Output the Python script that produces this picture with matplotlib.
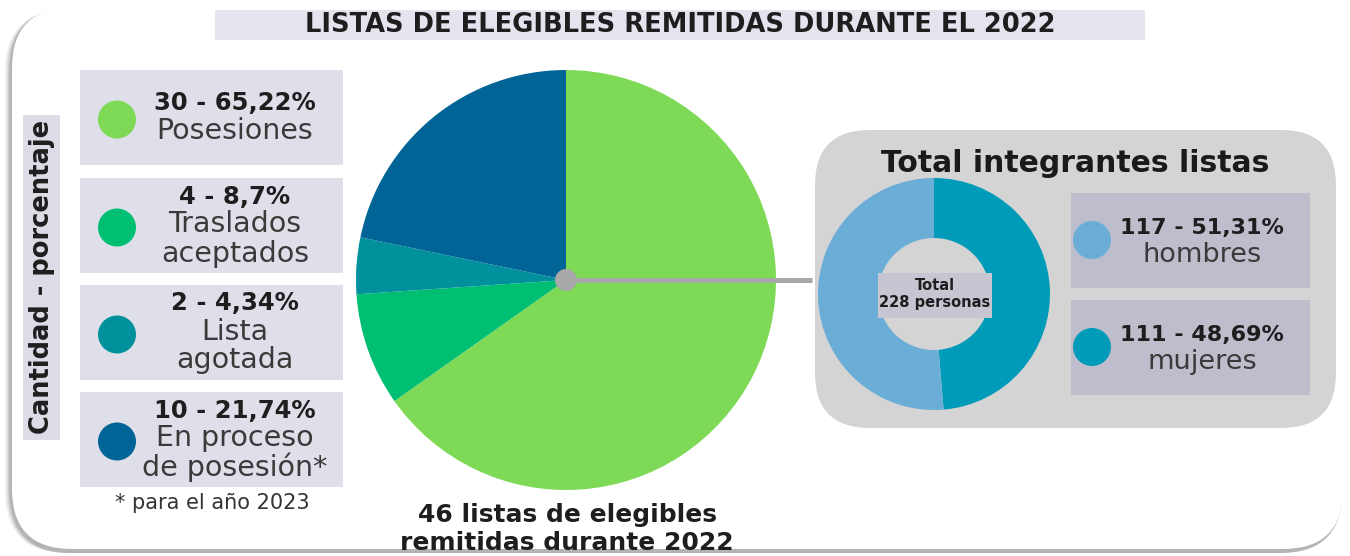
import matplotlib.pyplot as plt
from matplotlib.patches import FancyBboxPatch, Circle

# canvas in pixels
W, H = 1350, 556

# main pie: lists sent in 2022
categories = ['Posesiones', 'Traslados\naceptados', 'Lista\nagotada', 'En proceso\nde posesión*']
counts = [30, 4, 2, 10]
count_labels = ['30 - 65,22%', '4 - 8,7%', '2 - 4,34%', '10 - 21,74%']
colors = ['#7ed957', '#00bf72', '#00919c', '#006596']

# donut: members of the lists
gender = ['hombres', 'mujeres']
gender_counts = [117, 111]
gender_labels = ['117 - 51,31%', '111 - 48,69%']
gender_colors = ['#6aaed8', '#009bb8']

FONT = 'DejaVu Sans'


def Y(p):
    # pixel row (from top) -> data y (from bottom)
    return H - p


def rbox(ax, x0, y0, x1, y1, color, r=0, z=1, **kw):
    # rounded box given in pixel coords (top-left / bottom-right)
    ax.add_patch(FancyBboxPatch((x0, Y(y1)), x1 - x0, y1 - y0,
                                boxstyle=f'round,pad=0,rounding_size={r}' if r else 'square,pad=0',
                                fc=color, ec='none', zorder=z, **kw))


fig = plt.figure(figsize=(W / 100, H / 100), dpi=100)
ax = fig.add_axes([0, 0, 1, 1])

# card with soft shadow
for i, a in enumerate([0.10, 0.14, 0.20, 0.28]):
    d = 7 - i * 1.5
    rbox(ax, 12 - d, 8 + d * 0.3, 1343 - d * 0.2, 553, '#7a7a7a', r=62, z=0, alpha=a)
rbox(ax, 12, 8, 1343, 549, 'white', r=60, z=0.5)

# title
rbox(ax, 215, 10, 1145, 40, '#e4e4ee', z=1)
ax.text(680, Y(25), 'LISTAS DE ELEGIBLES REMITIDAS DURANTE EL 2022', ha='center', va='center',
        fontsize=18.5, fontweight='bold', family=FONT, color='#1e1e1e', zorder=3)

# vertical label
rbox(ax, 23, 115, 60, 440, '#dcdce6', z=1)
ax.text(42, Y(277), 'Cantidad - porcentaje', rotation=90, ha='center', va='center',
        fontsize=18.5, fontweight='bold', family=FONT, color='#1e1e1e', zorder=3)

# left legend boxes
box_tops = [70, 178, 285, 392]
box_h = 95
step = 29
for i in range(len(categories)):
    top = box_tops[i]
    rbox(ax, 80, top, 343, top + box_h, '#dfdfe9', z=1)
    cy = top + box_h / 2 + 2
    ax.add_patch(Circle((117, Y(cy)), 19, fc=colors[i], ec='none', zorder=3))
    lines = categories[i].split('\n')
    n = 1 + len(lines)
    y0 = top + box_h / 2 - (n - 1) * step / 2
    ax.text(235, Y(y0), count_labels[i], ha='center', va='center', fontsize=17.5,
            fontweight='bold', family=FONT, color='#1e1e1e', zorder=3)
    for j, ln in enumerate(lines):
        ax.text(235, Y(y0 + step * (j + 1) - 1), ln, ha='center', va='center', fontsize=20.5,
                family=FONT, color='#3a3a3a', zorder=3)

ax.text(212, Y(503), '* para el año 2023', ha='center', va='center', fontsize=15,
        family=FONT, color='#333333', zorder=3)

# main pie, clockwise from 12 o'clock
ax.pie(counts, colors=colors, startangle=90, counterclock=False,
       center=(566, Y(280)), radius=210, wedgeprops=dict(linewidth=0, zorder=2))

ax.text(567, Y(515), '46 listas de elegibles', ha='center', va='center', fontsize=18,
        fontweight='bold', family=FONT, color='#1e1e1e', zorder=3)
ax.text(567, Y(543), 'remitidas durante 2022', ha='center', va='center', fontsize=18,
        fontweight='bold', family=FONT, color='#1e1e1e', zorder=3)

# connector
ax.plot([566, 812], [Y(280), Y(280)], color='#a8a8a8', lw=3.6, solid_capstyle='butt', zorder=4)
ax.add_patch(Circle((566, Y(280)), 11, fc='#a8a8a8', ec='none', zorder=5))

# right panel
rbox(ax, 815, 130, 1336, 428, '#d4d4d4', r=55, z=1)
ax.text(1075, Y(163), 'Total integrantes listas', ha='center', va='center', fontsize=21.5,
        fontweight='bold', family=FONT, color='#1a1a1a', zorder=3)

ax.pie(gender_counts[::-1], colors=gender_colors[::-1], startangle=90, counterclock=False,
       center=(934, Y(294)), radius=116,
       wedgeprops=dict(width=60, linewidth=0, zorder=2))
rbox(ax, 878, 273, 992, 318, '#c6c5d1', z=3)
ax.text(935, Y(285), 'Total', ha='center', va='center', fontsize=10.5,
        fontweight='bold', family=FONT, color='#1e1e1e', zorder=4)
ax.text(935, Y(303), '228 personas', ha='center', va='center', fontsize=10.5,
        fontweight='bold', family=FONT, color='#1e1e1e', zorder=4)

gbox_tops = [193, 300]
for i in range(len(gender)):
    top = gbox_tops[i]
    rbox(ax, 1071, top, 1310, top + 95, '#bebdcb', z=2)
    ax.add_patch(Circle((1092, Y(top + 47)), 19, fc=gender_colors[i], ec='none', zorder=3))
    ax.text(1202, Y(top + 35), gender_labels[i], ha='center', va='center', fontsize=16,
            fontweight='bold', family=FONT, color='#1e1e1e', zorder=3)
    ax.text(1202, Y(top + 62), gender[i], ha='center', va='center', fontsize=19.5,
            family=FONT, color='#3a3a3a', zorder=3)

ax.set_xlim(0, W)
ax.set_ylim(0, H)
ax.set_aspect('auto')
ax.axis('off')

fig.savefig('out.png', dpi=100, facecolor='white')
